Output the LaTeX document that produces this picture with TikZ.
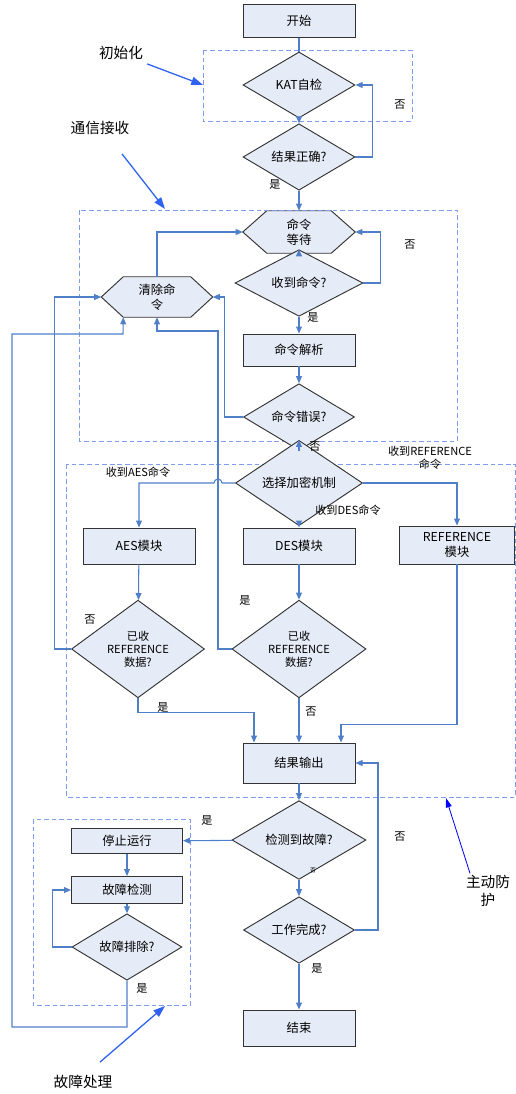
\documentclass[tikz,border=0pt]{standalone}
\usepackage{fontspec}
\setmainfont{Noto Sans CJK SC}
\usetikzlibrary{arrows.meta,calc,positioning,shapes.geometric,backgrounds}

\definecolor{linkblue}{HTML}{4F7FC8}
\definecolor{boxfill}{HTML}{E6ECF7}
\definecolor{frameblue}{HTML}{7E9CF0}
\definecolor{notehue}{HTML}{2F62F0}

\begin{document}
\begin{tikzpicture}[
  x=0.03cm, y=-0.03cm,
  font=\fontsize{10.5}{12.5}\selectfont,
  flow/.style={draw=linkblue, line width=0.9pt, -{Triangle[length=6pt, width=5pt]}},
  link/.style={draw=linkblue, line width=0.9pt},
  procbox/.style={draw=black!80, fill=boxfill, line width=0.8pt, inner sep=1pt, align=center,
                  minimum width=3.36cm, minimum height=1.08cm},
  decision/.style={diamond, draw=black!80, fill=boxfill, line width=0.8pt, inner sep=0pt, align=center},
  hexnode/.style={inner sep=1pt, align=center},
  hexline/.style={draw=black!80, fill=boxfill, line width=0.8pt},
  frame/.style={draw=frameblue, dash pattern=on 4pt off 2.5pt, line width=0.7pt},
  answer/.style={font=\fontsize{9.5}{11}\selectfont},
  note/.style={font=\fontsize{12.5}{15}\selectfont, align=center},
  pointer/.style={draw=notehue, line width=1.1pt, -{Triangle[length=10pt, width=7pt]}},
  thinpointer/.style={draw=blue, line width=0.7pt, -{Triangle[length=8pt, width=5pt]}}
]
\useasboundingbox (0,0) rectangle (516,1094);

% hexagon outline behind a node, #1 = node name, #2 = chamfer
\newcommand{\drawHex}[2]{%
  \begin{scope}[on background layer]
    \draw[hexline] (#1.west) -- ($(#1.north west)+(#2,0)$) -- ($(#1.north east)+(-#2,0)$)
      -- (#1.east) -- ($(#1.south east)+(-#2,0)$) -- ($(#1.south west)+(#2,0)$) -- cycle;
  \end{scope}
}

% ---------- dashed frames ----------
\draw[frame] (203,50) rectangle (412,121);
\draw[frame] (79,210) rectangle (457,441);
\draw[frame] (66,464) rectangle (515,797);
\draw[frame] (33,819) rectangle (190,1005);

% ---------- start / init ----------
\node[procbox, minimum height=0.99cm] (start) at (299,21) {开始};
\node[decision, minimum width=3.36cm, minimum height=1.98cm] (selftest) at (299,85) {KAT自检};
\node[decision, minimum width=3.36cm, minimum height=1.17cm] (chk) at (299,157) {结果正确?};

% ---------- command receive ----------
\node[hexnode, minimum width=3.36cm, minimum height=1.26cm] (cmdwait) at (299,232) {命令\\等待};
\drawHex{cmdwait}{24}
\node[decision, minimum width=3.84cm, minimum height=1.14cm] (gotcmd) at (299,283) {收到命令?};
\node[procbox, minimum height=0.96cm] (parse) at (299,350) {命令解析};
\node[decision, minimum width=3.33cm, minimum height=1.32cm] (cmderr) at (299,417) {命令错误?};
\node[hexnode, minimum width=3.33cm, minimum height=1.2cm] (clr) at (157,297) {清除命\\令};
\drawHex{clr}{22}
\coordinate (clrbl) at ($(clr.south west)+(22,0)$);

% ---------- modules ----------
\node[decision, minimum width=3.81cm, minimum height=1.17cm] (sel) at (299,483) {选择加密机制};
\node[procbox] (aesbox) at (139,546) {AES模块};
\node[procbox] (desbox) at (299,546) {DES模块};
\node[procbox, minimum width=3.45cm, minimum height=1.14cm] (refbox) at (457,545) {REFERENCE\\模块};
\node[decision, minimum width=3.99cm, minimum height=2.85cm, font=\fontsize{9.5}{11}\selectfont]
  (aesq) at (138,649) {已收\\REFERENCE\\数据?};
\node[decision, minimum width=4.02cm, minimum height=2.85cm, font=\fontsize{9.5}{11}\selectfont]
  (desq) at (299,649) {已收\\REFERENCE\\数据?};
\node[procbox, minimum height=1.2cm] (outbox) at (299,763) {结果输出};

% ---------- end part ----------
\node[decision, minimum width=4.02cm, minimum height=1.26cm] (faultq) at (299,840) {检测到故障?};
\node[decision, minimum width=3.33cm, minimum height=1.95cm] (doneq) at (299,930) {工作完成?};
\node[procbox] (endbox) at (299,1028) {结束};

% ---------- fault handling ----------
\node[procbox, minimum width=3.33cm, minimum height=0.75cm] (stopbox) at (127,841) {停止运行};
\node[procbox, minimum width=3.33cm, minimum height=0.81cm] (check) at (127,890) {故障检测};
\node[decision, minimum width=3.3cm, minimum height=1.41cm] (fixq) at (127,947) {故障排除?};

% ---------- connectors ----------
\draw[link] (start) -- (selftest);
\draw[flow] (selftest) -- (chk);
\draw[flow] (chk.east) -- ++(17,0) |- (selftest.east);
\draw[flow] (chk) -- (cmdwait);
\draw[flow] (cmdwait) -- (gotcmd);
\draw[flow] (gotcmd.east) -- ++(17,0) |- (cmdwait.east);
\draw[flow] (gotcmd) -- (parse);
\draw[flow] (parse) -- (cmderr);
\draw[flow] (cmderr.west) -- ++(-19,0) |- (clr.east);
\draw[flow] (clr.north) |- (cmdwait.west);
\draw[flow] (cmderr) -- (sel);

\draw[flow] (sel.west) -- (222,483) arc[start angle=0, end angle=-180, radius=4] -| (aesbox.north);
\draw[flow] (sel) -- (desbox);
\draw[flow] (sel.east) -| (refbox.north);
\draw[flow] (aesbox) -- (aesq);
\draw[flow] (desbox) -- (desq);
\draw[flow] (aesq.west) -- ++(-17,0) |- (clr.west);
\draw[flow] (desq.west) -- (218,649) |- (157,331) -- (clr.south);
\draw[flow] (aesq.south) |- ($(outbox.north)+(-45,-30)$) -- ($(outbox.north)+(-45,0)$);
\draw[flow] (desq) -- (outbox);
\draw[flow] (refbox.south) |- ($(outbox.north)+(42,-18)$) -- ($(outbox.north)+(42,0)$);

\draw[flow] (outbox) -- (faultq);
\draw[flow] (faultq) -- (stopbox);
\draw[flow] (faultq) -- (doneq);
\draw[flow] (doneq.east) -- ++(23,0) |- (outbox.east);
\draw[flow] (doneq) -- (endbox);

\draw[flow] (stopbox) -- (check);
\draw[flow] (check) -- (fixq);
\draw[flow] (fixq.west) -- ++(-19,0) |- (check.west);
\draw[flow] (fixq.south) |- (12,1027) |- (123,334) -- (clrbl);

% ---------- answers ----------
\node[answer] (a1) at (400,105) {否};
\node[answer] (a2) at (275,185) {是};
\node[answer] (a3) at (410,245) {否};
\node[answer] (a4) at (313,318) {是};
\node[answer] (a5) at (315,447) {否};
\node[answer] (a6) at (90,620) {否};
\node[answer] (a7) at (245,600) {是};
\node[answer] (a8) at (163,707) {是};
\node[answer] (a9) at (311,712) {否};
\node[answer] (a10) at (207,820) {是};
\node[answer] (a11) at (400,837) {否};
\node[answer, font=\fontsize{5}{6}\selectfont] (a12) at (313,870) {否};
\node[answer] (a13) at (317,968) {是};
\node[answer] (a14) at (142,988) {是};

\node[answer] (aeslab) at (138,472) {收到AES命令};
\node[answer] (deslab) at (348,510) {收到DES命令};
\node[answer, align=center] (reflab) at (430,458) {收到REFERENCE\\命令};

% ---------- notes ----------
\node[note] (initnote) at (121,53) {初始化};
\node[note] (commnote) at (100,128) {通信接收};
\node[note] (protnote) at (488,891) {主动防\\护};
\node[note] (faultnote) at (83,1082) {故障处理};

\coordinate (initedge) at (203,85);
\coordinate (commedge) at (165,209);
\coordinate (modedge) at (446,798);
\coordinate (faultedge) at (165,1006);

\draw[pointer] (initnote.south east) -- (initedge);
\draw[pointer] ($(commnote.south)+(22,15)$) -- (commedge);
\draw[thinpointer] ($(protnote.north)+(-18,2)$) -- (modedge);
\draw[pointer] ($(faultnote.north)+(17,-9)$) -- (faultedge);
\end{tikzpicture}
\end{document}
